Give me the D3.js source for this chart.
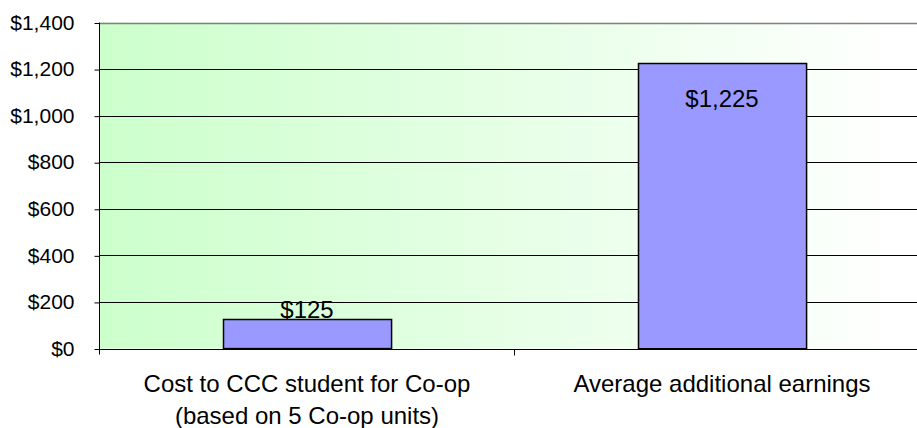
<!DOCTYPE html>
<html>
<head>
<meta charset="utf-8">
<script src="https://cdn.jsdelivr.net/npm/d3@7"></script>
<style>
body { margin: 0; background: #fff; }
svg { display: block; font-family: "Liberation Sans", Arial, sans-serif; }
</style>
</head>
<body>
<svg width="917" height="428"></svg>
<script>
var categories = [["Cost to CCC student for Co-op", "(based on 5 Co-op units)"], ["Average additional earnings"]];
var values = [125, 1225];
var valueLabels = ["$125", "$1,225"];
var yTicks = [0, 200, 400, 600, 800, 1000, 1200, 1400];

var svg = d3.select("svg");
var plotL = 99.5, plotT = 22.5, plotW = 830, plotH = 326;

var x = d3.scaleBand().domain(d3.range(categories.length)).range([plotL, plotL + plotW]);
var y = d3.scaleLinear().domain([0, 1400]).range([plotT + plotH, plotT]);

// background gradient
var grad = svg.append("defs").append("linearGradient").attr("id", "bg");
grad.append("stop").attr("offset", "0%").attr("stop-color", "#ccffcc");
grad.append("stop").attr("offset", "98%").attr("stop-color", "#ffffff");
svg.append("rect")
  .attr("x", plotL).attr("y", plotT)
  .attr("width", 917 - plotL).attr("height", plotH)
  .attr("fill", "url(#bg)");

// gridlines
svg.append("g").selectAll("line")
  .data(yTicks.slice(1))
  .enter().append("line")
  .attr("x1", plotL).attr("x2", plotL + plotW)
  .attr("y1", d => Math.round(y(d)) + 0.5).attr("y2", d => Math.round(y(d)) + 0.5)
  .attr("stroke", d => d === 1400 ? "#808080" : "#000")
  .attr("stroke-width", d => d === 1400 ? 1.5 : 1);

// y axis
var yAxis = d3.axisLeft(y).tickValues(yTicks).tickSize(5).tickPadding(20)
  .tickFormat(d => "$" + d3.format(",")(d));
var gy = svg.append("g").attr("transform", "translate(" + plotL + ",0)").call(yAxis);
gy.select(".domain").attr("d", "M0," + plotT + "V" + (plotT + plotH + 6));
gy.selectAll(".tick line").attr("transform", "translate(0,0.5)");
gy.selectAll("text").attr("font-size", 21).attr("fill", "#000")
  .attr("font-family", "Liberation Sans, Arial, sans-serif");

// x axis
var gx = svg.append("g").attr("transform", "translate(0," + (Math.round(y(0)) + 0.5) + ")");
gx.append("line").attr("x1", plotL).attr("x2", plotL + plotW).attr("stroke", "#000");
gx.selectAll(".tk")
  .data([1])
  .enter().append("line")
  .attr("x1", d => x(d)).attr("x2", d => x(d))
  .attr("y1", 0).attr("y2", 6).attr("stroke", "#000");

// bars
var barW = x.bandwidth() * 0.405;
svg.append("g").selectAll("rect")
  .data(values)
  .enter().append("rect")
  .attr("x", (d, i) => Math.round(x(i) + x.bandwidth() / 2 - barW / 2) + 0.5)
  .attr("y", d => Math.round(y(d)) + 0.5)
  .attr("width", barW)
  .attr("height", d => y(0) - y(d))
  .attr("fill", "#9999ff")
  .attr("stroke", "#000")
  .attr("stroke-width", 1.5);

// value labels
svg.append("g").selectAll("text")
  .data(values)
  .enter().append("text")
  .attr("x", (d, i) => x(i) + x.bandwidth() / 2)
  .attr("y", (d, i) => i === 0 ? y(d) - 1 : y(d) + 44)
  .attr("text-anchor", "middle")
  .attr("font-size", 24)
  .text((d, i) => valueLabels[i]);

// category labels
categories.forEach(function(lines, i) {
  var t = svg.append("text")
    .attr("x", x(i) + x.bandwidth() / 2)
    .attr("y", 392)
    .attr("text-anchor", "middle")
    .attr("font-size", 24);
  lines.forEach(function(s, j) {
    t.append("tspan").attr("x", x(i) + x.bandwidth() / 2).attr("dy", j === 0 ? 0 : 32).text(s);
  });
});
</script>
</body>
</html>
